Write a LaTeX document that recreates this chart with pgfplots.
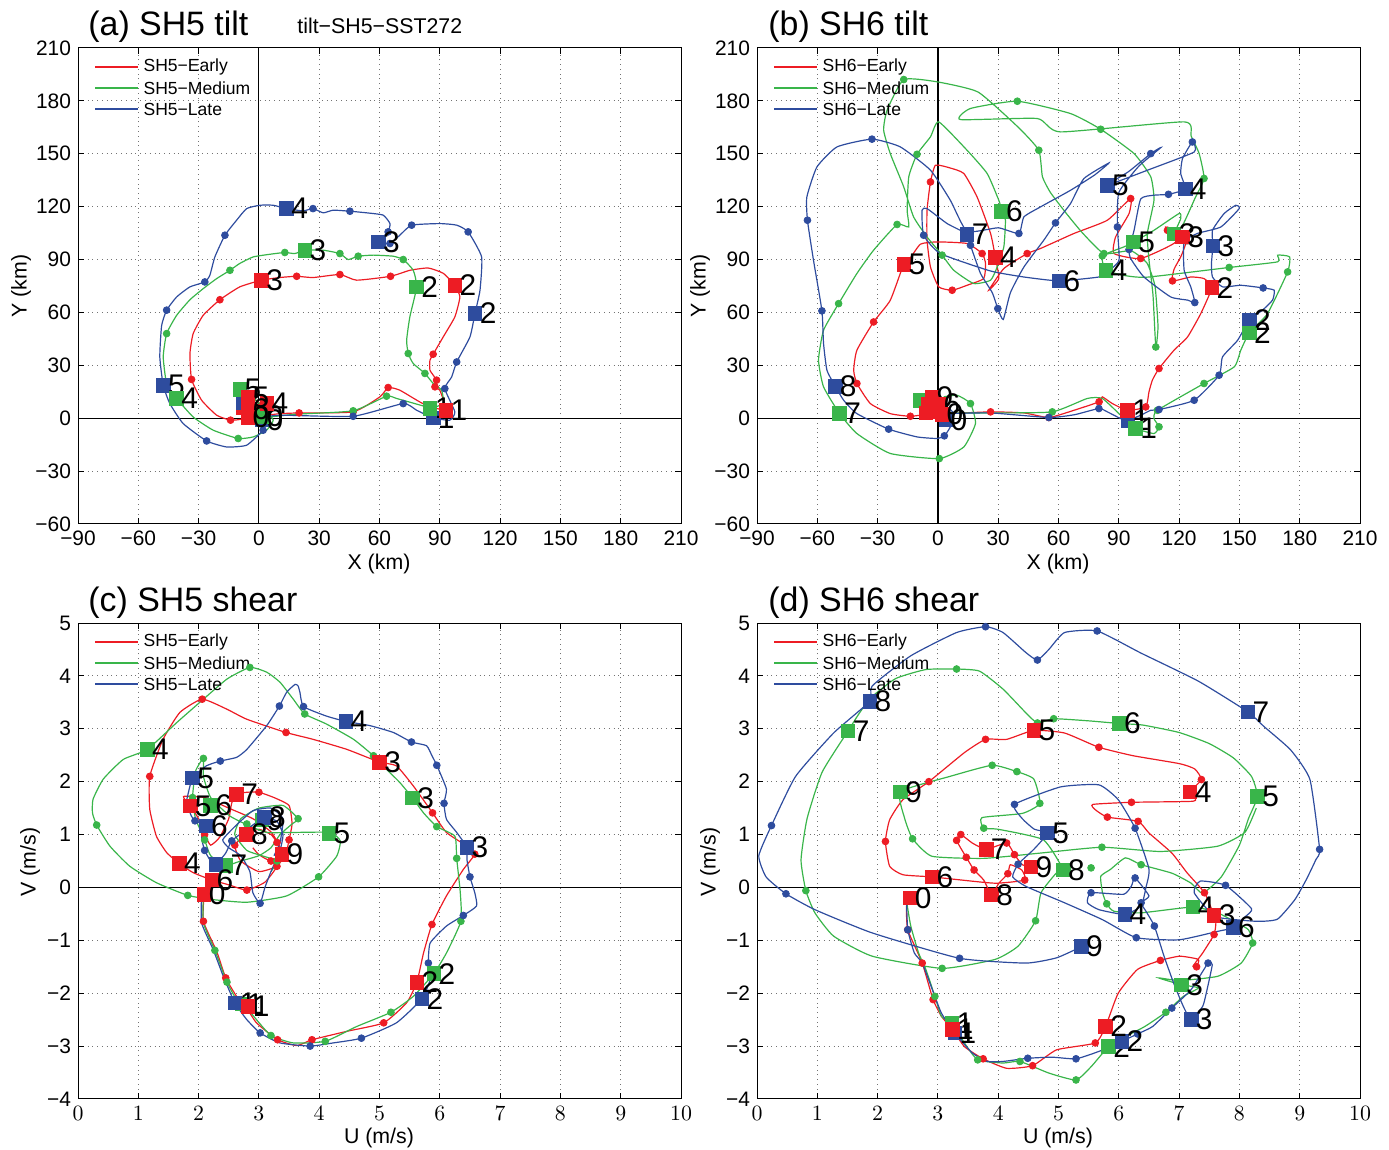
\documentclass[border=0pt]{standalone}
\usepackage{fontspec}
\setmainfont{Liberation Sans}
\usepackage{pgfplots}
\pgfplotsset{compat=1.18}
\definecolor{cR}{RGB}{237,28,36}
\definecolor{cG}{RGB}{57,181,74}
\definecolor{cB}{RGB}{46,76,158}
\newcommand{\lab}{\fontsize{15}{15}\selectfont}
\pgfplotsset{
  panel/.style={scale only axis, anchor=south west, width=301.5bp, height=238bp,
    grid=major, grid style={dotted, black!55, line width=0.5pt},
    tick label style={font=\fontsize{10.5}{12}\selectfont},
    major tick length=3bp, tick style={black, line width=0.5pt},
    axis line style={line width=0.5pt}},
  tiltax/.style={panel, xmin=-90, xmax=210, ymin=-60, ymax=210,
    xtick={-90,-60,...,210}, xticklabels={−90,−60,−30,0,30,60,90,120,150,180,210},
    ytick={-60,-30,...,210}, yticklabels={−60,−30,0,30,60,90,120,150,180,210}},
  shearax/.style={panel, xmin=0, xmax=10, ymin=-4, ymax=5,
    xtick={0,1,...,10}, ytick={-4,-3,...,5}, yticklabels={−4,−3,−2,−1,0,1,2,3,4,5}},
  ln/.style={line width=0.6pt, smooth, tension=0.3, forget plot},
  dt/.style={only marks, mark=*, mark size=1.7bp, forget plot},
  sq/.style={only marks, mark=square*, mark size=3.4bp, forget plot, nodes near coords, point meta=explicit symbolic,
    every node near coord/.append style={anchor=west, xshift=2.2bp, font=\lab, text=black, inner sep=0pt}},
  sqn/.style={only marks, mark=square*, mark size=3.4bp, forget plot},
  zl/.style={black, line width=0.6pt, forget plot}
}
\tikzset{legtxt/.style={anchor=west, text=black, font=\fontsize{8.8}{10}\selectfont, inner sep=0pt, xshift=2.5bp}}
\newcommand{\legrow}[3]{%
  \draw[draw=#1, line width=0.6pt] ([xshift=8.5bp,yshift=#2]rel axis cs:0,1) -- ([xshift=30bp,yshift=#2]rel axis cs:0,1) node[legtxt] {#3};}
\newcommand{\mylegend}[1]{\legrow{cR}{-9.5bp}{#1−Early}\legrow{cG}{-20bp}{#1−Medium}\legrow{cB}{-30.5bp}{#1−Late}}
\begin{document}
\begin{tikzpicture}
\useasboundingbox (0,0) rectangle (694.5bp,575bp);
% ---------------- (a) ----------------
\begin{axis}[tiltax, at={(39bp,313bp)}]
\addplot[zl] coordinates {(-90,0) (210,0)};
\addplot[zl] coordinates {(0,-60) (0,210)};
\addplot[cR, ln] coordinates {(-3,6) (2,5) (5,2) (10.4,2.6) (20,3) (46.9,3.6) (60.2,12.1) (64.3,17.4) (70.1,15.9) (81.6,8.3) (93,4.5) (90,15.9) (87.6,17.8) (88.4,21.6) (85.1,27.2) (85.1,32.9) (86.7,36.3) (91.7,46.1) (97.5,57.5) (100,68.8) (97.5,75.4) (91.7,82.2) (84.2,85.2) (75.1,83.9) (65.5,80.5) (48.6,78.3) (40.3,81.5) (27,79.8) (18.8,80.5) (10.4,79.8) (1.3,78.3) (-9.5,74.5) (-19.4,67.2) (-27.7,58.4) (-32.7,48) (-34.3,36.7) (-33.5,22) (-28.5,10.2) (-21,1.7) (-14.1,-1.1) (-7.8,-0.2) (-6,6) (-9,10) (-5,12) (0,9) (2,4) (-2,1) (-6,3) (-4,8) (1,7)};
\addplot[cG, ln] coordinates {(5.5,0.7) (18.8,2.3) (46.9,4.2) (63.5,12.5) (68.5,11.2) (83.4,6.4) (85.1,5.5) (91.7,8.3) (90.9,15.9) (86.7,19.7) (82.6,25.4) (76.8,31) (74.3,36.7) (73.5,44.2) (75.1,57.5) (78.5,74.5) (76.8,83.9) (71.8,90) (66.8,91.9) (56.9,92.5) (49.4,91.9) (44.4,90) (40.3,93.4) (32,95.3) (22.9,95.3) (17.9,93.4) (12.9,94) (5.5,93) (-2.8,91.5) (-9.5,87.8) (-14.4,83.9) (-21,79.2) (-27.7,73.5) (-34.3,67.2) (-40.9,58.4) (-45.9,48) (-47.6,34.8) (-45.9,19.7) (-40.9,11.2) (-32.7,0.7) (-22.7,-6.8) (-10.3,-11.5) (-2.8,-10.6) (3.8,-6.8) (7.1,-1.1) (2,6) (-3,12) (-6,14) (-2,9) (3,4) (0,1)};
\addplot[cB, ln] coordinates {(0.5,0.7) (12.1,1.7) (46.9,1.1) (71.8,8.3) (78.5,4.5) (86.7,0.2) (95,-1.1) (97.5,3.6) (92.5,16.8) (95.9,23.4) (98.4,31.9) (105,46.1) (107.5,59.4) (110,72.6) (110.8,91.5) (104.1,105.7) (98.4,109.5) (90,110.4) (76,109.5) (70.1,103.8) (65.2,99.1) (59.4,100) (64.3,105.7) (65.2,110.4) (61.8,115.2) (53.6,116.5) (45.3,117.4) (37,118) (32,116.5) (26.9,118.9) (22,117.6) (13.8,118.9) (7.1,120.8) (0.5,120.8) (-6.1,118.9) (-11.1,112.3) (-16.9,103.8) (-21.9,91.5) (-24.4,81.1) (-26.9,77.3) (-34.3,74.5) (-40.9,68.8) (-45.9,61.3) (-48.4,52.5) (-49.3,34.8) (-47.6,18.7) (-44.3,8.3) (-37.7,-3) (-26,-12.9) (-16.1,-16.3) (-6.1,-15.3) (2.1,-6.8) (3.8,-1.1) (0,4) (-5,7) (-9,9) (-4,3) (1,1)};
\addplot[dt, cR] coordinates {(20,3) (46.9,3.6) (64.3,17.4) (87.6,17.8) (88.4,21.6) (86.7,36.3) (65.5,80.5) (40.3,81.5) (18.8,80.5) (-19.4,67.2) (-33.5,22) (-14.1,-1.1)};
\addplot[dt, cG] coordinates {(46.9,4.2) (63.5,12.5) (82.6,25.4) (74.3,36.7) (71.8,90) (49.4,91.9) (40.3,93.4) (12.9,94) (-14.4,83.9) (-45.9,48) (-10.3,-11.5)};
\addplot[dt, cB] coordinates {(46.9,1.1) (71.8,8.3) (92.5,16.8) (98.4,31.9) (104.1,105.7) (76,109.5) (65.2,99.1) (64.3,105.7) (45.3,117.4) (26.9,118.9) (-16.9,103.8) (-26.9,77.3) (-45.9,61.3) (-26,-12.9) (2.1,-6.8)};
\addplot[sqn, cR] coordinates {(-8,6) (-3,4) (-6,9) (-2,2)};
\addplot[sqn, cB] coordinates {(-8,9)};
\addplot[sq, cB] table[meta=l, row sep=\\]{x y l\\ 86.7 0.2 1\\ 107.5 59.4 2\\ 59.4 100 3\\ 13.8 118.9 4\\ -47.6 18.7 5\\ 1.5 -1 0\\};
\addplot[sq, cG] table[meta=l, row sep=\\]{x y l\\ 85.1 5.5 1\\ 78.5 74.5 2\\ 22.9 95.3 3\\ -40.9 11.2 4\\ -9.5 16.5 5\\ 1.5 1 0\\};
\addplot[sq, cR] table[meta=l, row sep=\\]{x y l\\ 93 4.5 1\\ 97.5 75.4 2\\ 1.3 78.3 3\\ 4 8.5 4\\ -5.5 12 5\\ -5.5 5 6\\ -5.5 0.5 0\\};
\mylegend{SH5}
\end{axis}
% ---------------- (b) ----------------
\begin{axis}[tiltax, at={(378.5bp,313bp)}]
\addplot[zl] coordinates {(-90,0) (210,0)};
\addplot[zl] coordinates {(0,-60) (0,210)};
\addplot[cR, ln] coordinates {(-2,10) (1,6) (3,3) (4.6,2.6) (26.2,3.6) (42.8,3) (55.2,0.4) (67.7,4.5) (80.2,9.3) (81.8,12.1) (86.8,8.3) (94.3,4.5) (103.4,6.4) (105,14.9) (106.7,21.6) (110,28.2) (117.5,38.6) (124.2,46.1) (130.8,59.4) (136.3,74.1) (132.4,79.2) (125.8,80.1) (116.7,77.9) (117.5,84.5) (120.8,91.5) (123.3,99.1) (121.7,102.8) (114.2,106.6) (113.4,108.5) (118.3,99.9) (100.9,90.6) (87.6,93.4) (88.4,102.8) (95.1,116.1) (95.9,124.6) (84.3,112.3) (67.7,104.8) (51.1,96.3) (44.4,93.4) (32.8,84.9) (25.3,72.6) (30.3,79.2) (28.6,91.1) (26.2,104.8) (19.5,125.5) (12.9,138.8) (6.2,141.9) (-1.2,143.5) (-3.7,134) (-5.4,118) (-5.4,101) (-3.7,85.8) (0.4,74.5) (7.1,72.6) (14.5,75.4) (22.8,79.2) (23.7,87.7) (22,93.4) (14.5,99.1) (-0.4,100) (-8.7,98.7) (-14.5,89.6) (-17,87.4) (-23.7,66.9) (-32,54.6) (-40.3,38.6) (-41.9,27.2) (-40.3,19.7) (-33.6,8.3) (-23.7,2.6) (-13.7,1.1) (-5.4,2.6) (-3,8) (0,12) (2,7) (-1,4)};
\addplot[cG, ln] coordinates {(3,5) (5,3) (26,3) (56.9,3.6) (74.3,11.2) (81.8,11.2) (90.9,1.7) (95.9,-3) (98.4,-5.9) (107.5,-8.7) (110,-4.9) (107.5,-0.2) (109.2,4.5) (132.4,19.7) (147.4,29.1) (150.7,38.6) (154.9,48.4) (164,59.4) (174,83) (175,91.5) (169,92.5) (169,88.7) (144.9,85.5) (104,80) (92.6,81) (83.5,84) (81.8,92.1) (92.6,97.2) (97.3,99.9) (107.5,106.6) (120,116.1) (120.8,113.2) (117.5,104.5) (122,110) (128,125) (132.4,136) (130,150) (126,160) (122.5,168.1) (61,162.4) (49.4,170) (11.2,169.4) (16.2,175.7) (39.5,179.8) (66,172.8) (81,163.9) (97.6,150.1) (105.9,136.9) (107.5,123.6) (104.2,104.8) (105,90) (107,70) (108.4,40.4) (109.5,52) (108,75) (104,88) (96,95) (82.6,93.4) (72,105) (64,116) (56,128) (52,137) (50.2,152) (40,165) (20,185) (-0.4,190.8) (-17,192.1) (-25.3,174.7) (-27,163.4) (-23.7,150.1) (-17,131.2) (-12.1,114.2) (-5.4,102.8) (2.1,92.5) (7.9,83.9) (17.8,76.4) (26.2,78.3) (29.5,85.8) (32.8,97.2) (33.6,112.3) (32,117) (30.3,123.6) (24.5,138.8) (14.5,152) (0.4,168.1) (-3.7,159.6) (-10.4,149.7) (-14.5,136.9) (-15.3,118) (-14.5,108.5) (-20.3,109.9) (-32,95.3) (-40.3,82.1) (-49.4,65) (-56.9,49.9) (-59.4,32.9) (-56.9,17.8) (-48.9,2.6) (-40.3,-8.7) (-23.7,-20) (0.7,-22.9) (12.9,-16.3) (18.7,-3) (16.2,8.3) (9.6,13) (2.9,12.1)};
\addplot[cB, ln] coordinates {(4.6,2.6) (26.2,3) (55.2,0.4) (68,2) (80.1,5.5) (84.3,3.6) (90.9,-0.2) (94.6,-1.1) (100.9,1.7) (105.9,4.5) (110,4.9) (127.5,10.2) (139.9,24.4) (141.6,34.8) (149.1,44.2) (154.9,55.6) (161.5,61.3) (166.5,67) (167.3,72.6) (161.8,73.9) (150.7,75.4) (141.6,74.5) (136.6,80.1) (136.1,87.7) (136.8,97.7) (136.6,106.6) (142.4,116.1) (148.2,120.8) (149.9,118.9) (140.8,108.5) (129.1,104.8) (122.5,100) (122.5,84) (125.8,74.5) (127.8,65.6) (124.2,67) (115.8,68.8) (102.5,80.1) (95.9,90.6) (95.1,95.7) (97.6,106.6) (100.9,124.4) (107.5,126.5) (114.7,127) (123,130) (120.8,138.8) (121.7,147.3) (126.6,156.7) (127.5,151) (105,141) (84.3,132.2) (95,140) (105.9,150.1) (110.9,153.5) (100,143) (90,128) (89.3,108.5) (90.1,89.6) (84.3,83) (80.1,80.1) (60.2,77.9) (42.8,80.1) (26.2,83.5) (1.2,93.4) (-7.1,103.8) (-7.9,118) (-5.4,118.9) (4.6,110.4) (14.5,104.4) (16.2,98.1) (21.2,82.1) (27,71.3) (29.8,62.2) (32.5,56) (36.1,71.3) (42.8,85.8) (52.7,101) (58.5,110.8) (66,121.8) (72.6,135.9) (85.1,144.8) (78,138) (66,129.3) (51.1,119.9) (42.8,114.2) (40.3,104.8) (30,108) (14.5,106) (6.2,123.6) (-3.7,140.7) (-18.7,153.9) (-32.8,158.3) (-50.2,153.9) (-60.2,142.5) (-65.2,125.5) (-64.9,112.3) (-61.9,89.6) (-57.7,60.9) (-56.9,42.4) (-55.2,27.2) (-51.1,18.2) (-46.9,10.2) (-40.3,2.6) (-24.5,-6.2) (-10.4,-10.6) (-0.4,-11.5) (3.2,-10) (6.2,-4.9) (7.9,2.6) (5,6)};
\addplot[dt, cR] coordinates {(26.2,3.6) (55.2,0.4) (80.2,9.3) (103.4,6.4) (110,28.2) (116.7,77.9) (114.2,106.6) (100.9,90.6) (95.9,124.6) (44.4,93.4) (-3.7,134) (7.1,72.6) (22,93.4) (-32,54.6) (-40.3,19.7) (-13.7,1.1)};
\addplot[dt, cG] coordinates {(56.9,3.6) (110,-4.9) (109.2,4.5) (132.4,19.7) (174,83) (144.9,85.5) (81.8,92.1) (132.4,136) (50.2,152) (82.6,93.4) (108.4,40.4) (81,163.9) (39.5,179.8) (-17,192.1) (2.1,92.5) (-10.4,149.7) (-20.3,109.9) (-49.4,65) (0.7,-22.9) (16.2,8.3)};
\addplot[dt, cB] coordinates {(55.2,0.4) (80.1,5.5) (110,4.9) (127.5,10.2) (139.9,24.4) (161.8,73.9) (127.8,65.6) (95.1,95.7) (114.7,127) (126.6,156.7) (105.9,150.1) (89.3,108.5) (-7.1,103.8) (16.2,98.1) (29.8,62.2) (58.5,110.8) (40.3,104.8) (-32.8,158.3) (-64.9,112.3) (-57.7,60.9) (-24.5,-6.2) (3.2,-10)};
\addplot[sqn, cG] coordinates {(-8.7,10)};
\addplot[sqn, cR] coordinates {(-5,8) (-2,4) (-6,3) (0,6)};
\addplot[sq, cB] table[meta=l, row sep=\\]{x y l\\ 94.6 -1.1 1\\ 154.9 55.6 2\\ 136.8 97.7 3\\ 123 130 4\\ 84.3 132.2 5\\ 60.2 77.9 6\\ 14.5 104.4 7\\ -51.1 18.2 8\\ 4 -1 0\\};
\addplot[sq, cG] table[meta=l, row sep=\\]{x y l\\ 98.4 -5.9 1\\ 154.9 48.4 2\\ 117.5 104.5 3\\ 83.5 84 4\\ 97.3 99.9 5\\ 31.5 117.4 6\\ -48.9 2.6 7\\};
\addplot[sq, cR] table[meta=l, row sep=\\]{x y l\\ 94.3 4.5 1\\ 136.3 74.1 2\\ 121.7 102.8 3\\ 28.6 91.1 4\\ -17 87.4 5\\ -3 12 9\\ 0.5 8 6\\ 2 2 0\\};
\mylegend{SH6}
\end{axis}
% ---------------- (c) ----------------
\begin{axis}[shearax, at={(39bp,25.5bp)}]
\addplot[zl] coordinates {(0,0) (10,0)};
\addplot[cR, ln] coordinates {(2.09,-0.13) (2.08,-0.64) (2.30,-1.21) (2.45,-1.71) (2.63,-2.06) (2.78,-2.25) (2.96,-2.56) (3.31,-2.88) (3.63,-2.99) (3.88,-2.88) (4.46,-2.72) (5.07,-2.56) (5.45,-2.18) (5.62,-1.79) (5.73,-1.24) (5.87,-0.70) (6.11,-0.16) (6.39,0.34) (6.58,0.63) (6.45,0.78) (6.11,1.04) (5.88,1.41) (5.56,1.92) (5.28,2.30) (5.00,2.37) (4.46,2.61) (3.90,2.80) (3.45,2.93) (2.80,3.18) (2.47,3.37) (2.06,3.56) (1.69,3.31) (1.41,2.80) (1.19,2.10) (1.19,1.48) (1.30,0.97) (1.47,0.66) (1.68,0.45) (1.91,0.28) (2.22,0.14) (2.5,0.05) (2.8,-0.05) (3.1,0.1) (3.3,0.4) (3.35,0.75) (3.2,1.05) (2.9,1.3) (2.5,1.5) (2.1,1.7) (1.75,1.72) (1.86,1.54) (2.0,1.3) (2.1,1.0) (2.2,0.8) (2.35,0.95) (2.5,1.3) (2.55,1.6) (2.63,1.76) (2.8,1.8) (3.0,1.8) (3.25,1.7) (3.5,1.55) (3.55,1.2) (3.5,0.9) (3.45,0.65) (3.3,0.4) (3.0,0.3) (2.7,0.5) (2.6,0.8) (2.79,1.0) (3.0,1.1) (3.2,1.0) (3.3,0.85) (3.38,0.63) (3.2,0.5) (3.0,0.62) (2.9,0.75)};
\addplot[cG, ln] coordinates {(2.08,-0.10) (2.08,-0.67) (2.27,-1.19) (2.47,-1.79) (2.63,-2.12) (2.80,-2.28) (2.96,-2.50) (3.20,-2.80) (3.57,-2.94) (4.10,-2.91) (4.62,-2.63) (5.19,-2.36) (5.56,-2.06) (5.90,-1.63) (6.11,-1.24) (6.35,-0.64) (6.34,-0.10) (6.28,0.55) (6.25,0.97) (5.95,1.15) (5.73,1.41) (5.55,1.69) (5.34,1.98) (5.12,2.23) (4.90,2.49) (4.57,2.80) (4.12,3.09) (3.76,3.28) (3.57,3.56) (3.35,3.88) (3.13,4.07) (2.85,4.16) (2.47,3.94) (2.02,3.50) (1.64,3.12) (1.15,2.61) (0.75,2.42) (0.42,2.05) (0.25,1.67) (0.24,1.41) (0.31,1.18) (0.53,0.78) (0.86,0.40) (1.30,0.09) (1.82,-0.15) (2.24,-0.23) (2.80,-0.28) (3.46,-0.16) (3.99,0.20) (4.29,0.59) (4.35,0.88) (4.18,1.04) (3.57,1.04) (3.13,1.04) (2.85,1.16) (2.52,1.35) (2.2,1.7) (2.08,2.1) (2.08,2.44) (1.95,2.2) (1.90,1.70) (1.95,1.3) (2.1,0.9) (2.2,0.6) (2.45,0.42) (2.7,0.5) (3.0,0.6) (3.2,0.75) (3.35,1.0) (3.55,1.2) (3.65,1.3) (3.4,1.55) (3.0,1.5) (2.7,1.3) (2.6,1.0) (2.8,0.7) (3.05,0.6) (3.3,0.5) (3.2,0.3)};
\addplot[cB, ln] coordinates {(2.05,-0.13) (2.05,-0.67) (2.24,-1.17) (2.41,-1.68) (2.60,-2.18) (2.80,-2.5) (3.02,-2.75) (3.35,-2.94) (3.85,-3.0) (4.23,-2.94) (4.70,-2.85) (5.28,-2.56) (5.70,-2.11) (5.84,-1.74) (5.81,-1.43) (5.84,-1.05) (6.11,-0.73) (6.39,-0.53) (6.61,-0.35) (6.58,-0.10) (6.50,0.20) (6.45,0.53) (6.45,0.76) (6.28,1.04) (6.11,1.29) (6.07,1.59) (6.11,1.86) (5.95,2.31) (5.87,2.49) (5.78,2.68) (5.53,2.75) (5.23,2.93) (4.84,3.06) (4.44,3.14) (4.12,3.24) (3.74,3.42) (3.68,3.69) (3.65,3.81) (3.60,3.84) (3.46,3.69) (3.34,3.43) (3.13,3.06) (2.80,2.61) (2.63,2.46) (2.36,2.39) (2.13,2.30) (1.90,2.07) (1.83,1.79) (1.80,1.60) (1.88,1.35) (1.94,1.26) (2.02,1.22) (2.13,1.16) (2.05,0.95) (2.1,0.7) (2.2,0.5) (2.29,0.44) (2.45,0.65) (2.55,0.88) (2.8,1.1) (3.09,1.32) (3.3,1.25) (3.4,1.0) (3.35,0.7) (3.2,0.3) (3.1,0.0) (3.02,-0.30) (2.9,-0.1) (2.85,0.3) (2.7,0.6) (2.5,0.75) (2.4,0.9) (2.6,1.15) (2.9,1.45) (3.2,1.5) (3.4,1.3) (3.35,0.85) (3.25,0.6)};
\addplot[dt, cR] coordinates {(2.08,-0.64) (2.45,-1.71) (3.31,-2.88) (3.88,-2.88) (5.07,-2.56) (5.87,-0.70) (6.58,0.63) (5.88,1.41) (3.45,2.93) (2.06,3.56) (1.19,2.10) (2.1,1.0) (3.0,1.8) (2.8,-0.05) (3.3,0.4) (2.6,0.8) (3.3,0.85) (3.2,0.5) (3.5,0.9)};
\addplot[dt, cG] coordinates {(2.27,-1.19) (2.47,-1.79) (3.20,-2.80) (4.10,-2.91) (5.19,-2.36) (6.35,-0.64) (6.28,0.55) (5.95,1.15) (4.90,2.49) (3.76,3.28) (2.85,4.16) (0.31,1.18) (1.82,-0.15) (3.99,0.20) (2.08,2.44) (1.90,1.70) (3.65,1.3) (3.3,0.5) (2.1,0.9) (2.8,1.2)};
\addplot[dt, cB] coordinates {(3.02,-2.75) (3.85,-3.0) (4.70,-2.85) (5.81,-1.43) (6.39,-0.53) (6.50,0.20) (6.07,1.59) (5.95,2.31) (5.53,2.75) (3.74,3.42) (3.34,3.43) (2.36,2.39) (1.94,1.26) (2.55,0.88) (3.02,-0.30) (2.1,0.7)};
\addplot[sq, cG] table[meta=l, row sep=\\]{x y l\\ 2.72 -2.2 1\\ 5.90 -1.63 2\\ 5.55 1.69 3\\ 1.15 2.61 4\\ 4.16 1.02 5\\ 2.2 1.55 6\\ 2.45 0.42 7\\ 3.05 1.28 9\\};
\addplot[sq, cB] table[meta=l, row sep=\\]{x y l\\ 2.60 -2.18 1\\ 5.70 -2.11 2\\ 6.45 0.76 3\\ 4.44 3.14 4\\ 1.90 2.07 5\\ 2.13 1.16 6\\ 3.09 1.32 8\\};
\addplot[sqn, cB] coordinates {(2.29,0.44)};
\addplot[sq, cR] table[meta=l, row sep=\\]{x y l\\ 2.09 -0.13 0\\ 2.82 -2.25 1\\ 5.62 -1.79 2\\ 5.00 2.37 3\\ 1.68 0.45 4\\ 1.86 1.54 5\\ 2.22 0.14 6\\ 2.63 1.76 7\\ 2.79 1.0 8\\ 3.38 0.63 9\\};
\mylegend{SH5}
\end{axis}
% ---------------- (d) ----------------
\begin{axis}[shearax, at={(378.5bp,25.5bp)}]
\addplot[zl] coordinates {(0,0) (10,0)};
\addplot[cR, ln] coordinates {(2.54,-0.2) (2.48,-0.35) (2.50,-0.80) (2.74,-1.43) (2.92,-2.12) (3.06,-2.44) (3.24,-2.68) (3.44,-3.01) (3.75,-3.24) (4.14,-3.42) (4.57,-3.37) (4.97,-3.07) (5.61,-2.94) (5.78,-2.63) (5.99,-2.0) (6.31,-1.55) (6.69,-1.38) (7.01,-1.30) (7.32,-1.36) (7.29,-1.50) (7.23,-1.49) (7.39,-1.24) (7.58,-0.89) (7.61,-0.67) (7.58,-0.53) (7.42,-0.10) (7.13,0.28) (6.88,0.65) (6.50,1.03) (6.32,1.25) (5.81,1.33) (5.61,1.47) (5.57,1.57) (6.21,1.61) (7.23,1.63) (7.25,1.72) (7.18,1.81) (7.37,2.04) (7.26,2.24) (7.01,2.34) (6.24,2.49) (5.67,2.65) (5.10,2.92) (4.59,2.97) (4.14,2.80) (3.79,2.80) (3.44,2.55) (2.85,2.0) (2.42,1.66) (2.20,1.28) (2.13,0.87) (2.20,0.40) (2.42,0.24) (2.90,0.20) (3.31,0.15) (3.95,0.08) (4.44,0.14) (4.39,0.33) (4.20,0.43) (4.16,0.26) (4.01,0.08) (3.89,-0.14) (3.76,0.14) (3.60,0.33) (3.47,0.57) (3.31,0.89) (3.38,1.0) (3.57,0.84) (3.80,0.72) (4.14,0.84) (4.27,0.62) (4.40,0.43) (4.54,0.39)};
\addplot[cG, ln] coordinates {(2.48,-0.26) (2.55,-0.73) (2.68,-1.24) (2.80,-1.55) (2.95,-2.06) (3.06,-2.44) (3.23,-2.56) (3.44,-2.94) (3.66,-3.26) (4.08,-3.32) (4.36,-3.29) (4.84,-3.51) (5.29,-3.64) (5.54,-3.39) (5.83,-3.01) (6.11,-2.82) (6.43,-2.63) (6.78,-2.36) (7.07,-2.06) (7.32,-1.90) (7.04,-1.84) (6.66,-1.71) (7.01,-1.76) (7.64,-1.68) (8.03,-1.43) (8.22,-1.05) (8.15,-0.80) (7.96,-0.67) (7.64,-0.48) (7.23,-0.37) (6.37,-0.48) (5.92,-0.45) (5.80,-0.31) (5.73,-0.10) (5.70,0.21) (5.86,0.34) (6.11,0.56) (6.37,0.43) (6.88,0.27) (7.2,0.08) (7.39,-0.11) (7.7,0.2) (8.0,0.8) (8.15,1.3) (8.30,1.72) (8.2,2.1) (7.9,2.45) (7.5,2.72) (7.0,2.93) (6.4,3.07) (6.01,3.10) (5.5,3.15) (4.92,3.19) (4.65,3.11) (4.46,3.30) (4.08,3.75) (3.69,4.09) (3.31,4.13) (2.8,4.12) (2.3,3.95) (1.9,3.6) (1.7,3.3) (1.51,2.96) (1.08,2.18) (0.83,1.3) (0.73,0.52) (0.81,-0.06) (0.96,-0.48) (1.27,-0.92) (1.91,-1.30) (3.07,-1.53) (3.95,-1.36) (4.33,-1.11) (4.62,-0.63) (4.71,-0.10) (4.97,0.28) (5.08,0.33) (4.75,0.9) (4.0,1.1) (3.76,1.12) (3.73,1.32) (4.4,1.4) (4.69,1.59) (4.59,2.05) (4.31,2.19) (3.90,2.31) (3.2,2.1) (2.38,1.81) (2.45,1.3) (2.58,0.92) (2.9,0.59) (3.76,0.55) (4.7,0.65) (5.72,0.76) (6.69,0.68) (7.64,0.78) (8.09,1.04) (8.28,1.5)};
\addplot[cB, ln] coordinates {(2.48,-0.26) (2.50,-0.80) (2.61,-1.24) (2.74,-1.43) (2.93,-2.0) (3.06,-2.38) (3.28,-2.75) (3.57,-3.13) (3.82,-3.29) (4.08,-3.29) (4.49,-3.23) (4.90,-3.21) (5.29,-3.24) (5.67,-3.10) (6.05,-2.91) (6.31,-2.77) (6.56,-2.63) (6.88,-2.28) (7.20,-1.93) (7.48,-1.43) (7.55,-1.46) (7.45,-2.0) (7.39,-2.25) (7.20,-2.50) (7.07,-2.25) (6.91,-1.81) (6.75,-1.30) (6.59,-0.73) (6.45,-0.45) (6.37,-0.29) (6.50,-0.16) (6.27,0.18) (6.21,0.03) (6.08,-0.13) (5.54,-0.10) (5.48,-0.29) (5.67,-0.42) (6.10,-0.51) (6.37,-0.35) (6.45,0.0) (6.5,0.35) (6.27,1.12) (5.99,1.66) (5.67,1.94) (5.03,1.9) (4.27,1.57) (4.4,1.3) (4.6,1.1) (4.82,1.03) (4.59,0.72) (4.33,0.44) (4.24,0.2) (4.46,0.02) (5.1,-0.29) (5.73,-0.61) (6.29,-0.95) (7.0,-0.99) (7.64,-0.83) (7.90,-0.76) (8.1,-0.55) (8.2,-0.4) (7.77,0.04) (7.35,0.12) (7.25,-0.1) (7.6,-0.55) (8.28,-0.64) (8.63,-0.6) (8.92,-0.23) (9.11,0.15) (9.27,0.53) (9.33,0.72) (9.17,2.04) (8.85,2.6) (8.41,3.04) (8.14,3.32) (7.32,3.9) (6.37,4.43) (5.64,4.85) (5.1,4.82) (4.84,4.5) (4.65,4.3) (4.46,4.44) (4.08,4.82) (3.79,4.93) (3.31,4.82) (2.55,4.38) (1.91,3.81) (1.87,3.52) (1.27,2.92) (0.64,2.1) (0.24,1.17) (0.03,0.6) (0.15,0.2) (0.48,-0.12) (0.96,-0.42) (1.91,-0.86) (3.36,-1.34) (4.46,-1.43) (4.97,-1.33) (5.38,-1.12)};
\addplot[dt, cR] coordinates {(2.50,-0.80) (2.74,-1.43) (2.92,-2.12) (3.75,-3.24) (4.57,-3.37) (5.61,-2.94) (6.69,-1.38) (7.29,-1.50) (7.58,-0.89) (7.42,-0.10) (6.32,1.25) (5.81,1.33) (6.21,1.61) (7.37,2.04) (5.67,2.65) (3.79,2.80) (2.85,2.0) (2.13,0.87) (4.44,0.14) (4.16,0.26) (3.60,0.33) (3.47,0.57) (3.31,0.89) (3.38,1.0) (4.14,0.84) (4.27,0.62)};
\addplot[dt, cG] coordinates {(2.95,-2.06) (3.66,-3.26) (4.36,-3.29) (5.29,-3.64) (6.78,-2.36) (8.22,-1.05) (5.80,-0.31) (6.37,0.43) (4.92,3.19) (4.65,3.11) (3.31,4.13) (0.81,-0.06) (3.07,-1.53) (4.62,-0.63) (5.54,0.37) (4.69,1.59) (4.31,2.19) (3.90,2.31) (2.58,0.92) (5.72,0.76) (3.76,1.12)};
\addplot[dt, cB] coordinates {(2.50,-0.80) (4.49,-3.23) (5.29,-3.24) (6.31,-2.77) (6.88,-2.28) (7.48,-1.43) (6.59,-0.73) (6.37,-0.29) (6.27,0.18) (5.54,-0.10) (6.27,1.12) (4.27,1.57) (4.33,0.44) (6.29,-0.95) (9.33,0.72) (5.64,4.85) (4.65,4.30) (3.79,4.93) (0.24,1.17) (0.48,-0.12) (3.36,-1.34) (7.77,0.04)};
\addplot[sq, cG] table[meta=l, row sep=\\]{x y l\\ 3.23 -2.56 1\\ 5.83 -3.01 2\\ 7.04 -1.84 3\\ 7.23 -0.37 4\\ 8.30 1.72 5\\ 6.01 3.10 6\\ 1.51 2.96 7\\ 5.08 0.33 8\\ 2.38 1.81 9\\};
\addplot[sq, cB] table[meta=l, row sep=\\]{x y l\\ 3.28 -2.75 1\\ 6.05 -2.91 2\\ 7.20 -2.50 3\\ 6.10 -0.51 4\\ 4.82 1.03 5\\ 7.90 -0.76 6\\ 8.14 3.32 7\\ 1.87 3.52 8\\ 5.38 -1.12 9\\};
\addplot[sq, cR] table[meta=l, row sep=\\]{x y l\\ 2.54 -0.2 0\\ 3.24 -2.68 1\\ 5.78 -2.63 2\\ 7.58 -0.53 3\\ 7.18 1.81 4\\ 4.59 2.97 5\\ 2.90 0.20 6\\ 3.80 0.72 7\\ 3.89 -0.14 8\\ 4.54 0.39 9\\};
\mylegend{SH6}
\end{axis}
% ---------------- titles and axis labels ----------------
\node[anchor=west, inner sep=0, font=\fontsize{17}{20}\selectfont] at (44bp,561.5bp) {(a) SH5 tilt};
\node[anchor=west, inner sep=0, font=\fontsize{10.7}{12}\selectfont] at (148.5bp,562bp) {tilt−SH5−SST272};
\node[anchor=west, inner sep=0, font=\fontsize{17}{20}\selectfont] at (384bp,561.5bp) {(b) SH6 tilt};
\node[anchor=west, inner sep=0, font=\fontsize{17}{20}\selectfont] at (44bp,273.5bp) {(c) SH5 shear};
\node[anchor=west, inner sep=0, font=\fontsize{17}{20}\selectfont] at (384bp,273.5bp) {(d) SH6 shear};
\node[inner sep=0, font=\fontsize{10.7}{12}\selectfont] at (189.5bp,293bp) {X (km)};
\node[inner sep=0, font=\fontsize{10.7}{12}\selectfont] at (529bp,293bp) {X (km)};
\node[inner sep=0, font=\fontsize{10.7}{12}\selectfont, rotate=90] at (10.5bp,432bp) {Y (km)};
\node[inner sep=0, font=\fontsize{10.7}{12}\selectfont, rotate=90] at (350bp,432bp) {Y (km)};
\node[inner sep=0, font=\fontsize{10.7}{12}\selectfont] at (189.5bp,6bp) {U (m/s)};
\node[inner sep=0, font=\fontsize{10.7}{12}\selectfont] at (529bp,6bp) {U (m/s)};
\node[inner sep=0, font=\fontsize{10.7}{12}\selectfont, rotate=90] at (15bp,144bp) {V (m/s)};
\node[inner sep=0, font=\fontsize{10.7}{12}\selectfont, rotate=90] at (355bp,144bp) {V (m/s)};
\end{tikzpicture}
\end{document}
